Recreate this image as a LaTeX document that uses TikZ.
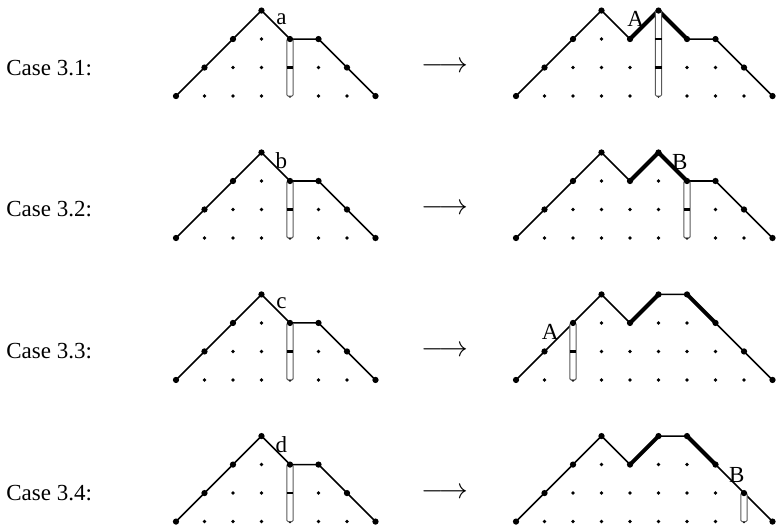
\documentclass[tikz,border=0pt]{standalone}
\usepackage{fontspec}
\setmainfont{Liberation Serif}

\tikzset{
  pathline/.style={line width=0.8pt, line join=round},
  boldline/.style={line width=2pt, line join=round, line cap=round},
  pillarbox/.style={line width=0.5pt, draw=black!65, fill=white, rounded corners=0.6pt},
  pillarmark/.style={line width=1.1pt},
  lbl/.style={inner sep=0pt, font=\fontsize{11.5}{13}\selectfont},
  caselbl/.style={anchor=west, inner sep=0pt, font=\fontsize{11.5}{13}\selectfont},
}

% small lattice dots below a path given as column/height pairs
\newcommand{\latdots}[1]{%
  \foreach \i/\h in {#1} {\foreach \j in {0,...,\h} {\fill (\i,\j) circle[radius=0.065];}}}
% the bigger dots on the path itself
\newcommand{\pathdots}[1]{%
  \foreach \i/\h in {#1} {\fill (\i,\h) circle[radius=0.11];}}

\newcommand{\leftpanel}{%
  \latdots{0/0,1/1,2/2,3/3,4/2,5/2,6/1,7/0}
  \draw[pathline] (0,0) -- (3,3) -- (4,2) -- (5,2) -- (7,0);
  \draw[pillarbox] (3.89,0) rectangle (4.11,2);
  \pathdots{0/0,1/1,2/2,3/3,4/2,5/2,6/1,7/0}
  \draw[pillarmark] (3.89,1) -- (4.11,1);
}

\begin{document}
\begin{tikzpicture}[x=14.25pt, y=14.25pt]
  \useasboundingbox (0,0) rectangle (27.333,18.491);

  % case labels and arrows
  \foreach \k/\yy in {1/15.12, 2/10.14, 3/5.16, 4/0.19} {
    \node[caselbl] (case\k) at (0.21,\yy+1) {Case 3.\k:};
    \node[inner sep=0pt, font=\fontsize{15.5}{17}\selectfont] (arr\k) at (15.6,\yy+1) {$\longrightarrow$};
  }

  % Case 3.1
  \begin{scope}[shift={(6.175,15.12)}]
    \leftpanel
    \node[lbl] (la) at (3.7,2.7) {a};
  \end{scope}
  \begin{scope}[shift={(18.105,15.12)}]
    \latdots{0/0,1/1,2/2,3/3,4/2,5/3,6/2,7/2,8/1,9/0}
    \draw[pathline] (0,0) -- (3,3) -- (4,2) -- (5,3) -- (6,2) -- (7,2) -- (9,0);
    \draw[boldline] (4,2) -- (5,3) -- (6,2);
    \draw[pillarbox] (4.89,0) rectangle (5.11,3);
    \pathdots{0/0,1/1,2/2,3/3,4/2,5/3,6/2,7/2,8/1,9/0}
    \foreach \j in {1,2} {\draw[pillarmark] (4.89,\j) -- (5.11,\j);}
    \node[lbl] (ra) at (4.2,2.7) {A};
  \end{scope}

  % Case 3.2
  \begin{scope}[shift={(6.175,10.14)}]
    \leftpanel
    \node[lbl] (lb) at (3.7,2.7) {b};
  \end{scope}
  \begin{scope}[shift={(18.105,10.14)}]
    \latdots{0/0,1/1,2/2,3/3,4/2,5/3,6/2,7/2,8/1,9/0}
    \draw[pathline] (0,0) -- (3,3) -- (4,2) -- (5,3) -- (6,2) -- (7,2) -- (9,0);
    \draw[boldline] (4,2) -- (5,3) -- (6,2);
    \draw[pillarbox] (5.89,0) rectangle (6.11,2);
    \pathdots{0/0,1/1,2/2,3/3,4/2,5/3,6/2,7/2,8/1,9/0}
    \draw[pillarmark] (5.89,1) -- (6.11,1);
    \node[lbl] (rb) at (5.75,2.65) {B};
  \end{scope}

  % Case 3.3
  \begin{scope}[shift={(6.175,5.16)}]
    \leftpanel
    \node[lbl] (lc) at (3.7,2.7) {c};
  \end{scope}
  \begin{scope}[shift={(18.105,5.16)}]
    \latdots{0/0,1/1,2/2,3/3,4/2,5/3,6/3,7/2,8/1,9/0}
    \draw[pathline] (0,0) -- (3,3) -- (4,2) -- (5,3) -- (6,3) -- (9,0);
    \draw[boldline] (4,2) -- (5,3);
    \draw[boldline] (6,3) -- (7,2);
    \draw[pillarbox] (1.89,0) rectangle (2.11,2);
    \pathdots{0/0,1/1,2/2,3/3,4/2,5/3,6/3,7/2,8/1,9/0}
    \draw[pillarmark] (1.89,1) -- (2.11,1);
    \node[lbl] (rc) at (1.2,1.7) {A};
  \end{scope}

  % Case 3.4
  \begin{scope}[shift={(6.175,0.19)}]
    \leftpanel
    \node[lbl] (ld) at (3.7,2.7) {d};
  \end{scope}
  \begin{scope}[shift={(18.105,0.19)}]
    \latdots{0/0,1/1,2/2,3/3,4/2,5/3,6/3,7/2,8/1,9/0}
    \draw[pathline] (0,0) -- (3,3) -- (4,2) -- (5,3) -- (6,3) -- (9,0);
    \draw[boldline] (4,2) -- (5,3);
    \draw[boldline] (6,3) -- (7,2);
    \draw[pillarbox] (7.89,0) rectangle (8.11,1);
    \pathdots{0/0,1/1,2/2,3/3,4/2,5/3,6/3,7/2,8/1,9/0}
    \node[lbl] (rd) at (7.75,1.65) {B};
  \end{scope}
\end{tikzpicture}
\end{document}
